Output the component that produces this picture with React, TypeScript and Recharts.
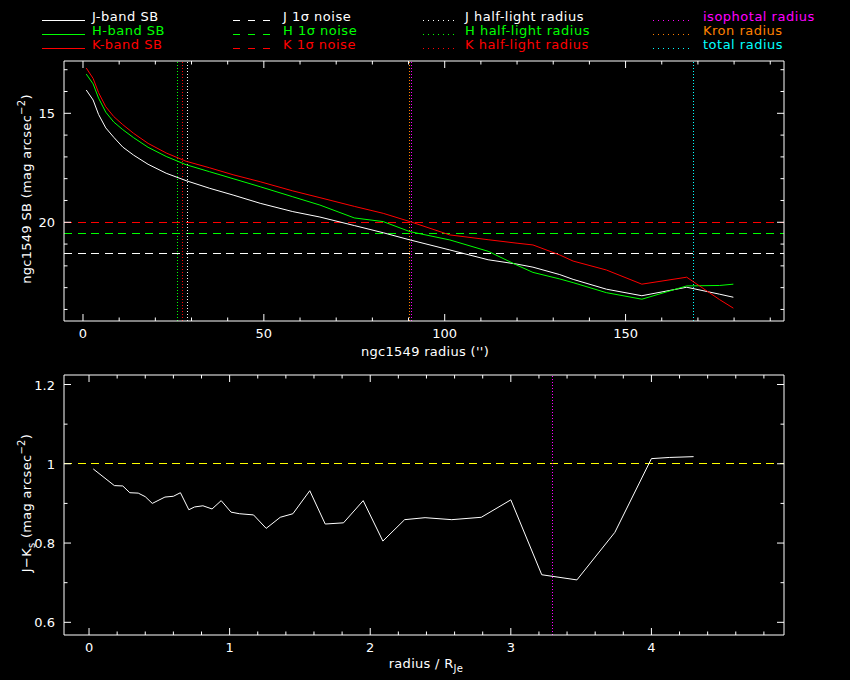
import React from 'react';
import { LineChart, Line, XAxis, YAxis, ReferenceLine } from 'recharts';

// ---------- data ----------
const sbRadius = [0.9, 2.8, 4.3, 6.3, 8.5, 11, 14, 18, 23, 28.5, 35, 41.5, 49, 58, 65.5, 75, 83, 90.4, 101.4, 112, 120, 124.4, 131.8, 135.5, 144.7, 154.5, 166.9, 176, 179.8];
const sbJ = [13.93, 14.39, 15.05, 15.67, 16.1, 16.55, 16.92, 17.34, 17.75, 18.09, 18.44, 18.75, 19.13, 19.51, 19.76, 20.15, 20.48, 20.81, 21.27, 21.72, 21.92, 22.06, 22.4, 22.62, 23.07, 23.37, 22.98, 23.3, 23.44];
const sbH = [13.2, 13.65, 14.3, 14.95, 15.4, 15.75, 16.12, 16.56, 16.98, 17.36, 17.68, 18.0, 18.37, 18.83, 19.21, 19.8, 19.97, 20.43, 20.81, 21.33, 21.97, 22.3, 22.6, 22.77, 23.23, 23.53, 22.92, 22.9, 22.84];
const sbK = [12.92, 13.4, 14.05, 14.7, 15.15, 15.52, 15.92, 16.38, 16.82, 17.2, 17.5, 17.82, 18.14, 18.56, 18.87, 19.27, 19.59, 19.97, 20.58, 20.8, 20.96, 21.04, 21.5, 21.78, 22.19, 22.84, 22.52, 23.55, 23.94];

const noiseBands = ['J', 'H', 'K'];
const noiseLevels = [21.42, 20.5, 20.0];

const halfLightRadii = [28.8, 26.0, 27.5]; // J, H, K
const isophotalRadius = 90.7;
const kronRadius = 90.2;
const totalRadius = 168.7;

const colourRadius = [0.03, 0.18, 0.24, 0.29, 0.35, 0.4, 0.45, 0.54, 0.6, 0.65, 0.71, 0.75, 0.81, 0.875, 0.94, 1.01, 1.07, 1.17, 1.26, 1.36, 1.45, 1.57, 1.68, 1.81, 1.95, 2.09, 2.245, 2.39, 2.58, 2.79, 3.0, 3.22, 3.47, 3.74, 4.0, 4.13, 4.3];
const colourJK = [0.987, 0.945, 0.944, 0.927, 0.926, 0.917, 0.9, 0.916, 0.918, 0.927, 0.884, 0.891, 0.894, 0.886, 0.907, 0.878, 0.874, 0.871, 0.837, 0.865, 0.874, 0.932, 0.848, 0.851, 0.907, 0.805, 0.859, 0.864, 0.859, 0.865, 0.909, 0.72, 0.707, 0.827, 1.013, 1.016, 1.018];
const colourReference = 1.0;
const colourMarkerRadius = 3.3;

// ticks
const topXTicks = [0, 10, 20, 30, 40, 50, 60, 70, 80, 90, 100, 110, 120, 130, 140, 150, 160, 170, 180, 190];
const topXLabels = [0, 50, 100, 150];
const topYTicks = [13, 14, 15, 16, 17, 18, 19, 20, 21, 22, 23, 24];
const topYLabels = [15, 20];
const botXTicks = [0, 0.2, 0.4, 0.6, 0.8, 1, 1.2, 1.4, 1.6, 1.8, 2, 2.2, 2.4, 2.6, 2.8, 3, 3.2, 3.4, 3.6, 3.8, 4, 4.2, 4.4, 4.6, 4.8];
const botXLabels = [0, 1, 2, 3, 4];
const botYTicks = [0.6, 0.7, 0.8, 0.9, 1, 1.1, 1.2];
const botYLabels = [0.6, 0.8, 1, 1.2];

// legend
const legendSB = ['J-band SB', 'H-band SB', 'K-band SB'];
const legendNoise = ['J 1σ noise', 'H 1σ noise', 'K 1σ noise'];
const legendHalf = ['J half-light radius', 'H half-light radius', 'K half-light radius'];
const legendRadii = ['isophotal radius', 'Kron radius', 'total radius'];

// ---------- styles ----------
const bandColors = ['#ffffff', '#00ff00', '#ff0000'];
const radiiColors = ['#ff00ff', '#ff8000', '#00ffff'];
const FONT = '"DejaVu Sans", sans-serif';
const DASH = '8 5.5';
const DOT = '1 2';

const sbData = sbRadius.map((r, i) => ({ r, J: sbJ[i], H: sbH[i], K: sbK[i] }));
const colourData = colourRadius.map((u, i) => ({ u, jk: colourJK[i] }));

const near = (list: number[], v: number) => list.some((m) => Math.abs(m - v) < 1e-6);

function makeTick(side: 'bottom' | 'top' | 'left' | 'right', labels: number[], majors: number[]) {
  return (props: any) => {
    const { x, y, payload } = props;
    const v = payload.value as number;
    const major = near(majors, v);
    const L = major ? 7 : 3.5;
    let line: any;
    let label: any = null;
    if (side === 'bottom') {
      line = <line x1={x} y1={y} x2={x} y2={y - L} stroke="#fff" strokeWidth={1} />;
      if (near(labels, v))
        label = (
          <text x={x} y={y + 17} textAnchor="middle" fill="#fff" fontSize={13} fontFamily={FONT}>
            {String(v)}
          </text>
        );
    } else if (side === 'top') {
      line = <line x1={x} y1={y} x2={x} y2={y + L} stroke="#fff" strokeWidth={1} />;
    } else if (side === 'left') {
      line = <line x1={x} y1={y} x2={x + L} y2={y} stroke="#fff" strokeWidth={1} />;
      if (near(labels, v))
        label = (
          <text x={x - 9} y={y + 5} textAnchor="end" fill="#fff" fontSize={13} fontFamily={FONT}>
            {String(v)}
          </text>
        );
    } else {
      line = <line x1={x} y1={y} x2={x - L} y2={y} stroke="#fff" strokeWidth={1} />;
    }
    return (
      <g>
        {line}
        {label}
      </g>
    );
  };
}

const axisLine = { stroke: '#fff', strokeWidth: 1 };

function TopChart() {
  const xd: [number, number] = [-5.25, 193.8];
  const yd: [number, number] = [12.6, 24.53];
  return (
    <LineChart width={850} height={370} data={sbData} margin={{ top: 60, right: 0, bottom: 0, left: 0 }}>
      <XAxis xAxisId="b" dataKey="r" type="number" domain={xd} allowDataOverflow ticks={topXTicks} interval={0}
        height={49} tickSize={0} tickMargin={0} tickLine={false} axisLine={axisLine}
        tick={makeTick('bottom', topXLabels, topXLabels)} />
      <XAxis xAxisId="t" orientation="top" dataKey="r" type="number" domain={xd} allowDataOverflow ticks={topXTicks} interval={0}
        height={1} tickSize={0} tickMargin={0} tickLine={false} axisLine={axisLine}
        tick={makeTick('top', [], topXLabels)} />
      <YAxis yAxisId="l" type="number" domain={yd} reversed allowDataOverflow ticks={topYTicks} interval={0}
        width={64} tickSize={0} tickMargin={0} tickLine={false} axisLine={axisLine}
        tick={makeTick('left', topYLabels, topYLabels)} />
      <YAxis yAxisId="r" orientation="right" type="number" domain={yd} reversed allowDataOverflow ticks={topYTicks} interval={0}
        width={66} tickSize={0} tickMargin={0} tickLine={false} axisLine={axisLine}
        tick={makeTick('right', [], topYLabels)} />
      {noiseBands.map((b, i) => (
        <ReferenceLine key={'n' + b} xAxisId="b" yAxisId="l" y={noiseLevels[i]} stroke={bandColors[i]} strokeDasharray={DASH} shapeRendering="crispEdges" />
      ))}
      {halfLightRadii.map((r, i) => (
        <ReferenceLine key={'h' + i} xAxisId="b" yAxisId="l" x={r} stroke={bandColors[i]} strokeDasharray={DOT} shapeRendering="crispEdges" />
      ))}
      <ReferenceLine xAxisId="b" yAxisId="l" x={kronRadius} stroke={radiiColors[1]} strokeDasharray={DOT} shapeRendering="crispEdges" />
      <ReferenceLine xAxisId="b" yAxisId="l" x={isophotalRadius} stroke={radiiColors[0]} strokeDasharray={DOT} shapeRendering="crispEdges" />
      <ReferenceLine xAxisId="b" yAxisId="l" x={totalRadius} stroke={radiiColors[2]} strokeDasharray={DOT} shapeRendering="crispEdges" />
      <Line xAxisId="b" yAxisId="l" dataKey="J" stroke={bandColors[0]} strokeWidth={1} dot={false} isAnimationActive={false} />
      <Line xAxisId="b" yAxisId="l" dataKey="H" stroke={bandColors[1]} strokeWidth={1} dot={false} isAnimationActive={false} />
      <Line xAxisId="b" yAxisId="l" dataKey="K" stroke={bandColors[2]} strokeWidth={1} dot={false} isAnimationActive={false} />
    </LineChart>
  );
}

function BottomChart() {
  const xd: [number, number] = [-0.178, 4.943];
  const yd: [number, number] = [0.568, 1.224];
  return (
    <LineChart width={850} height={310} data={colourData} margin={{ top: 4, right: 0, bottom: 0, left: 0 }}>
      <XAxis xAxisId="b" dataKey="u" type="number" domain={xd} allowDataOverflow ticks={botXTicks} interval={0}
        height={45} tickSize={0} tickMargin={0} tickLine={false} axisLine={axisLine}
        tick={makeTick('bottom', botXLabels, botXLabels)} />
      <XAxis xAxisId="t" orientation="top" dataKey="u" type="number" domain={xd} allowDataOverflow ticks={botXTicks} interval={0}
        height={1} tickSize={0} tickMargin={0} tickLine={false} axisLine={axisLine}
        tick={makeTick('top', [], botXLabels)} />
      <YAxis yAxisId="l" type="number" domain={yd} allowDataOverflow ticks={botYTicks} interval={0}
        width={64} tickSize={0} tickMargin={0} tickLine={false} axisLine={axisLine}
        tick={makeTick('left', botYLabels, botYLabels)} />
      <YAxis yAxisId="r" orientation="right" type="number" domain={yd} allowDataOverflow ticks={botYTicks} interval={0}
        width={66} tickSize={0} tickMargin={0} tickLine={false} axisLine={axisLine}
        tick={makeTick('right', [], botYLabels)} />
      <ReferenceLine xAxisId="b" yAxisId="l" y={colourReference} stroke="#ffff00" strokeDasharray={DASH} shapeRendering="crispEdges" />
      <ReferenceLine xAxisId="b" yAxisId="l" x={colourMarkerRadius} stroke="#ff00ff" strokeDasharray={DOT} shapeRendering="crispEdges" />
      <Line xAxisId="b" yAxisId="l" dataKey="jk" stroke="#ffffff" strokeWidth={1} dot={false} isAnimationActive={false} />
    </LineChart>
  );
}

function Overlay() {
  const rows = [21, 35, 49];
  const txt = { fontSize: 13, fontFamily: FONT, letterSpacing: 0.5 } as const;
  return (
    <svg width={850} height={680} style={{ position: 'absolute', left: 0, top: 0, pointerEvents: 'none' }}>
      {legendSB.map((t, i) => (
        <g key={'sb' + i}>
          <line x1={42} x2={85} y1={rows[i] - 1} y2={rows[i] - 1} stroke={bandColors[i]} shapeRendering="crispEdges" />
          <text x={92} y={rows[i]} fill={bandColors[i]} {...txt}>{t}</text>
        </g>
      ))}
      {legendNoise.map((t, i) => (
        <g key={'no' + i}>
          <line x1={233} x2={277} y1={rows[i] - 1} y2={rows[i] - 1} stroke={bandColors[i]} strokeDasharray="7 8" shapeRendering="crispEdges" />
          <text x={283} y={rows[i]} fill={bandColors[i]} {...txt}>{t}</text>
        </g>
      ))}
      {legendHalf.map((t, i) => (
        <g key={'hl' + i}>
          <line x1={423} x2={457} y1={rows[i] - 1} y2={rows[i] - 1} stroke={bandColors[i]} strokeDasharray="1 4" shapeRendering="crispEdges" />
          <text x={465} y={rows[i]} fill={bandColors[i]} {...txt}>{t}</text>
        </g>
      ))}
      {legendRadii.map((t, i) => (
        <g key={'ra' + i}>
          <line x1={653} x2={693} y1={rows[i] - 1} y2={rows[i] - 1} stroke={radiiColors[i]} strokeDasharray="1 4" shapeRendering="crispEdges" />
          <text x={703} y={rows[i]} fill={radiiColors[i]} {...txt}>{t}</text>
        </g>
      ))}
      <text x={425} y={356} textAnchor="middle" fill="#fff" fontSize={13} fontFamily={FONT} letterSpacing={0.3}>
        ngc1549 radius ('')
      </text>
      <text transform="translate(31,189) rotate(-90)" textAnchor="middle" fill="#fff" fontSize={13} fontFamily={FONT} letterSpacing={0.3}>
        ngc1549 SB (mag arcsec<tspan dy={-6} fontSize={10}>−2</tspan><tspan dy={6}>)</tspan>
      </text>
      <text x={426} y={668} textAnchor="middle" fill="#fff" fontSize={13} fontFamily={FONT} letterSpacing={0.3}>
        radius / R<tspan dy={4} fontSize={10}>Je</tspan>
      </text>
      <text transform="translate(31,503) rotate(-90)" textAnchor="middle" fill="#fff" fontSize={13} fontFamily={FONT} letterSpacing={0.3}>
        J−K<tspan dy={4} fontSize={10}>s</tspan><tspan dy={-4}> (mag arcsec</tspan><tspan dy={-6} fontSize={10}>−2</tspan><tspan dy={6}>)</tspan>
      </text>
    </svg>
  );
}

export default function App() {
  return (
    <div style={{ position: 'absolute', left: 0, top: 0, width: 850, height: 680, background: '#000', overflow: 'hidden' }}>
      <div style={{ position: 'absolute', left: 0, top: 0 }}>
        <TopChart />
      </div>
      <div style={{ position: 'absolute', left: 0, top: 370 }}>
        <BottomChart />
      </div>
      <Overlay />
    </div>
  );
}
